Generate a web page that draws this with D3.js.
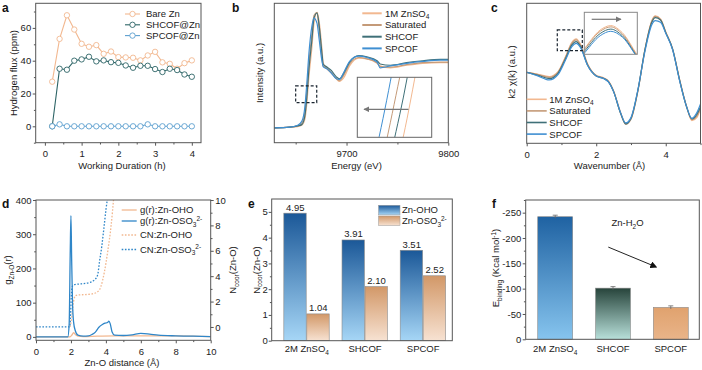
<!DOCTYPE html>
<html>
<head>
<meta charset="utf-8">
<script src="https://cdn.jsdelivr.net/npm/d3@7"></script>
<style>
  body { margin: 0; background: #fff; }
  svg { font-family: Arial, "Liberation Sans", sans-serif; }
  .axis text { font-size: 9.5px; fill: #222; }
  .axis line { stroke: #555; }
  .lbl { font-size: 9.5px; fill: #222; }
  .tag { font-size: 12px; font-weight: bold; fill: #111; }
</style>
</head>
<body>
<svg id="fig" width="702" height="370"></svg>
<script>
// ---------- a: hydrogen flux ----------
const durH = [0.2, 0.4, 0.6, 0.8, 1.0, 1.2, 1.4, 1.6, 1.8, 2.0, 2.2, 2.4, 2.6, 2.8, 3.0, 3.2, 3.4, 3.6, 3.8, 4.0];
const fluxBare = [27.2, 53.3, 67.7, 59, 50.3, 48.5, 49.5, 44.2, 45.6, 42.2, 42, 41.8, 40.2, 43.2, 45.4, 39, 38.1, 35.1, 38.5, 40.2];
const fluxSHCOF = [0, 35.1, 34.5, 40, 40.8, 42.4, 39.6, 40.2, 39.1, 38.7, 37.1, 35.7, 36.9, 36.9, 34.9, 33.1, 35.1, 34.3, 31.6, 30.2];
const fluxSPCOF = [0, 1.2, 0, 0, 0, 0, 0, 0, 0, 0, 0, 0, 0, 1.2, 0, 0, 0, 0, 0, 0];

// ---------- b: XANES ----------
const energy = [9629, 9644, 9652, 9656, 9659, 9661, 9663, 9666, 9668, 9671, 9673, 9676, 9677, 9681, 9685, 9690, 9693, 9697, 9703, 9712, 9720, 9730, 9733, 9743, 9759, 9775, 9792, 9800];
const xan1M = [0, 0.01, 0.02, 0.04, 0.13, 0.38, 0.78, 1.25, 1.62, 1.79, 1.66, 1.20, 1.01, 0.91, 0.85, 0.76, 0.72, 0.77, 0.96, 1.08, 1.07, 1.00, 0.96, 0.93, 0.97, 1.00, 1.01, 1.01];
const xanSat = [0, 0.01, 0.03, 0.07, 0.24, 0.58, 1.00, 1.46, 1.74, 1.79, 1.52, 1.06, 0.96, 0.92, 0.86, 0.76, 0.73, 0.81, 0.99, 1.09, 1.07, 1.01, 0.95, 0.94, 0.98, 1.01, 1.02, 1.02];
const xanSHCOF = [0, 0.01, 0.03, 0.05, 0.18, 0.48, 0.90, 1.37, 1.70, 1.78, 1.60, 1.13, 0.99, 0.94, 0.89, 0.79, 0.76, 0.84, 1.02, 1.12, 1.10, 1.04, 0.99, 0.97, 1.01, 1.04, 1.06, 1.06];
const xanSPCOF = [0, 0.01, 0.04, 0.10, 0.32, 0.70, 1.15, 1.58, 1.70, 1.62, 1.38, 1.02, 0.95, 0.91, 0.85, 0.76, 0.75, 0.85, 1.03, 1.11, 1.09, 1.02, 0.93, 0.96, 1.00, 1.03, 1.05, 1.05];

// ---------- c: EXAFS k-space ----------
const waveK = [0, 0.3, 0.65, 0.9, 1.1, 1.3, 1.42, 1.55, 1.75, 2.0, 2.2, 2.35, 2.5, 2.7, 2.85, 3.0, 3.2, 3.4, 3.6, 3.7, 3.85, 4.0, 4.2, 4.4, 4.6, 4.75, 4.9, 5.0];
const chi1M = [0, -0.05, -0.13, 0.02, 0.43, 0.90, 1.00, 0.84, 0.26, -0.09, -0.16, -0.26, -0.55, -1.20, -1.53, -1.40, -0.55, 0.68, 1.55, 1.69, 1.60, 1.22, 0.70, -0.22, -1.02, -1.45, -1.35, -1.10];
const chiSat = [0, -0.06, -0.15, 0.0, 0.41, 0.87, 0.97, 0.81, 0.24, -0.10, -0.17, -0.27, -0.57, -1.22, -1.56, -1.41, -0.56, 0.66, 1.54, 1.68, 1.58, 1.20, 0.68, -0.23, -1.03, -1.42, -1.30, -1.08];
const chiSHCOF = [0, -0.08, -0.19, -0.03, 0.37, 0.82, 0.92, 0.77, 0.22, -0.11, -0.18, -0.28, -0.58, -1.23, -1.55, -1.38, -0.53, 0.67, 1.50, 1.64, 1.57, 1.19, 0.69, -0.24, -1.04, -1.40, -1.25, -1.03];
const chiSPCOF = [0, -0.10, -0.23, -0.07, 0.33, 0.77, 0.87, 0.74, 0.21, -0.11, -0.18, -0.29, -0.58, -1.21, -1.52, -1.36, -0.52, 0.62, 1.43, 1.55, 1.50, 1.17, 0.67, -0.26, -1.03, -1.38, -1.20, -0.95];

// ---------- d: RDF and coordination number ----------
const rOSO = [0, 1.82, 1.90, 1.96, 2.00, 2.04, 2.09, 2.15, 2.25, 2.4, 2.7, 3.0, 3.2, 3.4, 3.6, 3.8, 3.95, 4.1, 4.17, 4.25, 4.35, 4.5, 5.0, 5.5, 6.0, 6.5, 7.0, 8.0, 9.0, 10];
const gOSO = [0, 0, 40, 250, 354, 230, 100, 44, 18, 5, 2, 3, 7, 14, 28, 36, 40, 42, 46, 38, 15, 5, 4, 6, 10, 8, 5, 3, 2, 1];
const rOHO = [0, 1.95, 2.05, 2.15, 2.25, 2.4, 2.7, 3.5, 4.5, 6, 8, 10];
const gOHO = [0, 0, 5, 12, 7, 2, 1, 2, 3, 3, 3, 1];
const rCnOHO = [1.95, 2.05, 2.15, 2.25, 2.4, 2.8, 3.2, 3.5, 3.72, 3.91, 4.1, 4.3, 4.45];
const cnOHO = [0, 0.8, 2.0, 2.45, 2.52, 2.55, 2.6, 2.75, 3.2, 4.3, 5.9, 8.0, 10.2];
const rCnOSO = [0, 1.92, 1.97, 2.02, 2.08, 2.2, 2.6, 3.05, 3.34, 3.53, 3.63, 3.77, 3.88, 4.01, 4.12];
const cnOSO = [0, 0, 0.6, 2.4, 3.2, 3.33, 3.4, 3.5, 3.7, 4.1, 5.1, 6.4, 7.7, 9.3, 10.4];

// ---------- e / f: bars ----------
const systems = ["2M ZnSO4", "SHCOF", "SPCOF"];
const ncoorOHO = [4.95, 3.91, 3.51];
const ncoorOSO = [1.04, 2.10, 2.52];
const eBinding = [-242, -101, -63];
const eBindingErr = [3, 3, 3];

const C = { orange: "#f2b890", brown: "#c49a78", teal: "#3f7078", blue: "#3f8fd2", aTeal: "#2d6466", aBlue: "#5c9fcf", frame: "#555" };

const svg = d3.select("#fig");
svg.append("rect").attr("width", 702).attr("height", 370).attr("fill", "#fff");
const defs = svg.append("defs");

defs.append("marker").attr("id", "grayHead").attr("viewBox", "0 -5 10 10")
  .attr("refX", 9).attr("refY", 0).attr("markerWidth", 5).attr("markerHeight", 5)
  .attr("orient", "auto").append("path").attr("d", "M0,-5L10,0L0,5Z").attr("fill", "#777");
defs.append("marker").attr("id", "blackHead").attr("viewBox", "0 -5 10 10")
  .attr("refX", 8).attr("refY", 0).attr("markerWidth", 7).attr("markerHeight", 7)
  .attr("orient", "auto").append("path").attr("d", "M0,-5L10,0L0,5Z").attr("fill", "#111");

function grad(id, top, bottom) {
  const g = defs.append("linearGradient").attr("id", id).attr("x1", 0).attr("y1", 0).attr("x2", 0).attr("y2", 1);
  g.append("stop").attr("offset", "0%").attr("stop-color", top);
  g.append("stop").attr("offset", "100%").attr("stop-color", bottom);
}
grad("gBlueE", "#1b5898", "#a6d6f6");
grad("gOrangeE", "#d29868", "#f7e2d2");
grad("gBlueF", "#1f62a2", "#86c4ee");
grad("gTealF", "#27443b", "#b8e0da");
grad("gTanF", "#e0a26e", "#e9b489");

function clip(id, x, y) {
  const [x0, x1] = x.range(), [y0, y1] = y.range();
  defs.append("clipPath").attr("id", id).append("rect")
    .attr("x", Math.min(x0, x1)).attr("y", Math.min(y0, y1))
    .attr("width", Math.abs(x1 - x0)).attr("height", Math.abs(y1 - y0));
}

function frame(x, y) {
  const [x0, x1] = x.range(), [y0, y1] = y.range();
  svg.append("rect").attr("x", Math.min(x0, x1)).attr("y", Math.min(y0, y1))
    .attr("width", Math.abs(x1 - x0)).attr("height", Math.abs(y1 - y0))
    .attr("fill", "none").attr("stroke", C.frame).attr("stroke-width", 1);
}

function addAxis(gen, scale, major, minor, tr, fmt, pad) {
  const g = svg.append("g").attr("class", "axis").attr("transform", tr);
  g.call(gen(scale).tickValues(major).tickSize(3).tickSizeOuter(0)
    .tickPadding(pad).tickFormat(fmt || (d => d)));
  g.select(".domain").remove();
  if (minor) {
    const m = g.append("g").call(gen(scale).tickValues(minor).tickSize(1.8).tickFormat(""));
    m.select(".domain").remove();
  }
  return g;
}

// text with sub/superscripts: parts = ["text", ["4","sub"], ["2-","sup"]]
function rich(sel, parts) {
  let shift = 0;
  parts.forEach(p => {
    const [txt, kind] = Array.isArray(p) ? p : [p, ""];
    const target = kind === "sub" ? 2.5 : kind === "sup" ? -3.5 : 0;
    const t = sel.append("tspan").attr("dy", target - shift).text(txt);
    if (kind) t.attr("font-size", "6.5px");
    shift = target;
  });
  return sel;
}

function label(x, y, parts, opts = {}) {
  const t = svg.append("text").attr("class", "lbl")
    .attr("text-anchor", opts.anchor || "start");
  if (opts.rotate) t.attr("transform", `translate(${x},${y}) rotate(-90)`);
  else t.attr("x", x).attr("y", y);
  return rich(t, parts);
}

function tag(x, y, s) {
  svg.append("text").attr("class", "tag").attr("x", x).attr("y", y).text(s);
}

const zip = (xs, ys) => xs.map((v, i) => [v, ys[i]]);

// =============== panel a ===============
{
  const x = d3.scaleLinear().domain([-0.25, 4.25]).range([35.7, 201]);
  const y = d3.scaleLinear().domain([-10, 75]).range([142.7, 3.3]);
  const line = d3.line().x(d => x(d[0])).y(d => y(d[1]));
  const series = [
    { name: "Bare Zn", vals: fluxBare, color: C.orange },
    { name: "SHCOF@Zn", vals: fluxSHCOF, color: C.aTeal },
    { name: "SPCOF@Zn", vals: fluxSPCOF, color: C.aBlue }
  ];
  series.forEach(s => {
    const pts = zip(durH, s.vals);
    svg.append("path").attr("d", line(pts)).attr("fill", "none")
      .attr("stroke", s.color).attr("stroke-width", 1.1);
    svg.append("g").selectAll("circle").data(pts).enter().append("circle")
      .attr("cx", d => x(d[0])).attr("cy", d => y(d[1])).attr("r", 2.7)
      .attr("fill", "#fff").attr("stroke", s.color).attr("stroke-width", 0.9);
  });
  frame(x, y);
  addAxis(d3.axisBottom, x, [0, 1, 2, 3, 4], [0.5, 1.5, 2.5, 3.5], "translate(0,142.7)", null, 5);
  addAxis(d3.axisLeft, y, [0, 20, 40, 60], [-10, 10, 30, 50, 70], "translate(35.7,0)", null, 1.5);
  label(122, 168.5, ["Working Duration (h)"], { anchor: "middle" });
  label(17, 73, ["Hydrogen flux (ppm)"], { anchor: "middle", rotate: true });
  series.forEach((s, i) => {
    const ly = 14 + i * 10.8;
    svg.append("line").attr("x1", 125).attr("x2", 140).attr("y1", ly).attr("y2", ly)
      .attr("stroke", s.color).attr("stroke-width", 1.1);
    svg.append("circle").attr("cx", 132.5).attr("cy", ly).attr("r", 2.7)
      .attr("fill", "#fff").attr("stroke", s.color).attr("stroke-width", 0.9);
    label(146, ly + 3.4, [s.name]);
  });
  tag(2, 12, "a");
}

// =============== panel b ===============
{
  const x = d3.scaleLinear().domain([9629, 9800]).range([274.3, 448.3]);
  const y = d3.scaleLinear().domain([-0.23, 1.93]).range([142.7, 3.3]);
  clip("clipB", x, y);
  const series = [
    { name: [["1M ZnSO"], ["4", "sub"]], vals: xan1M, color: C.orange },
    { name: ["Saturated"], vals: xanSat, color: C.brown },
    { name: ["SHCOF"], vals: xanSHCOF, color: C.teal },
    { name: ["SPCOF"], vals: xanSPCOF, color: C.blue }
  ];
  const plot = svg.append("g").attr("clip-path", "url(#clipB)");
  series.forEach(s => {
    const ln = d3.line().x(d => x(d[0])).y(d => y(d[1])).curve(d3.curveMonotoneX);
    plot.append("path").attr("d", ln(zip(energy, s.vals))).attr("fill", "none")
      .attr("stroke", s.color).attr("stroke-width", 1.2);
  });
  // dashed box marking the zoomed region
  const box = { e0: 9650, e1: 9670.7, i0: 0.39, i1: 0.65 };
  svg.append("rect").attr("x", x(box.e0)).attr("y", y(box.i1))
    .attr("width", x(box.e1) - x(box.e0)).attr("height", y(box.i0) - y(box.i1))
    .attr("fill", "none").attr("stroke", "#1a2530").attr("stroke-width", 1.2).attr("stroke-dasharray", "3,2");
  // inset
  const xi = d3.scaleLinear().domain([9658.15, 9663.15]).range([357.3, 431.7]);
  const yi = d3.scaleLinear().domain([0.42, 0.58]).range([137.3, 77.3]);
  clip("clipBi", xi, yi);
  svg.append("rect").attr("x", 357.3).attr("y", 77.3).attr("width", 74.4).attr("height", 60)
    .attr("fill", "#fff");
  const ip = svg.append("g").attr("clip-path", "url(#clipBi)");
  series.forEach(s => {
    const ln = d3.line().x(d => xi(d[0])).y(d => yi(d[1])).curve(d3.curveMonotoneX);
    ip.append("path").attr("d", ln(zip(energy, s.vals))).attr("fill", "none")
      .attr("stroke", s.color).attr("stroke-width", 1);
  });
  svg.append("rect").attr("x", 357.3).attr("y", 77.3).attr("width", 74.4).attr("height", 60)
    .attr("fill", "none").attr("stroke", "#666").attr("stroke-width", 1);
  svg.append("line").attr("x1", 408.5).attr("x2", 364).attr("y1", 109.3).attr("y2", 109.3)
    .attr("stroke", "#777").attr("stroke-width", 1.2).attr("marker-end", "url(#grayHead)");
  frame(x, y);
  addAxis(d3.axisBottom, x, [9700, 9800], [9650, 9750], "translate(0,142.7)", null, 5);
  label(356.5, 168.5, ["Energy (eV)"], { anchor: "middle" });
  label(263, 73, ["Intensity (a.u.)"], { anchor: "middle", rotate: true });
  series.forEach((s, i) => {
    const ly = 13.3 + i * 11.7;
    svg.append("line").attr("x1", 362.3).attr("x2", 381.7).attr("y1", ly).attr("y2", ly)
      .attr("stroke", s.color).attr("stroke-width", 2);
    label(385, ly + 3.4, s.name);
  });
  tag(232, 12, "b");
}

// =============== panel c ===============
{
  const x = d3.scaleLinear().domain([0, 5]).range([526.7, 700.5]);
  const y = d3.scaleLinear().domain([-2.13, 2.07]).range([143.3, 3.3]);
  clip("clipC", x, y);
  const series = [
    { name: [["1M ZnSO"], ["4", "sub"]], vals: chi1M, color: C.orange },
    { name: ["Saturated"], vals: chiSat, color: C.brown },
    { name: ["SHCOF"], vals: chiSHCOF, color: C.teal },
    { name: ["SPCOF"], vals: chiSPCOF, color: C.blue }
  ];
  const plot = svg.append("g").attr("clip-path", "url(#clipC)");
  series.forEach(s => {
    const ln = d3.line().x(d => x(d[0])).y(d => y(d[1])).curve(d3.curveMonotoneX);
    plot.append("path").attr("d", ln(zip(waveK, s.vals))).attr("fill", "none")
      .attr("stroke", s.color).attr("stroke-width", 1.2);
  });
  const box = { k0: 0.88, k1: 1.6, c0: 0.65, c1: 1.27 };
  svg.append("rect").attr("x", x(box.k0)).attr("y", y(box.c1))
    .attr("width", x(box.k1) - x(box.k0)).attr("height", y(box.c0) - y(box.c1))
    .attr("fill", "none").attr("stroke", "#1a2530").attr("stroke-width", 1.2).attr("stroke-dasharray", "3,2");
  const xi = d3.scaleLinear().domain([1.12, 1.72]).range([584.3, 637.3]);
  const yi = d3.scaleLinear().domain([0.35, 1.3]).range([54.3, 12.3]);
  clip("clipCi", xi, yi);
  svg.append("rect").attr("x", 584.3).attr("y", 12.3).attr("width", 53).attr("height", 42).attr("fill", "#fff");
  const ip = svg.append("g").attr("clip-path", "url(#clipCi)");
  series.forEach(s => {
    const ln = d3.line().x(d => xi(d[0])).y(d => yi(d[1])).curve(d3.curveMonotoneX);
    ip.append("path").attr("d", ln(zip(waveK, s.vals))).attr("fill", "none")
      .attr("stroke", s.color).attr("stroke-width", 1);
  });
  svg.append("rect").attr("x", 584.3).attr("y", 12.3).attr("width", 53).attr("height", 42)
    .attr("fill", "none").attr("stroke", "#888").attr("stroke-width", 1);
  svg.append("line").attr("x1", 591.7).attr("x2", 621).attr("y1", 19.3).attr("y2", 19.3)
    .attr("stroke", "#777").attr("stroke-width", 1.2).attr("marker-end", "url(#grayHead)");
  frame(x, y);
  addAxis(d3.axisBottom, x, [0, 2, 4], [1, 3, 5], "translate(0,143.3)", null, 5);
  label(609.5, 168.5, ["Wavenumber (Å)"], { anchor: "middle" });
  label(515, 72, ["k2 χ(k) (a.u.)"], { anchor: "middle", rotate: true });
  series.forEach((s, i) => {
    const ly = 99.3 + i * 11.6;
    svg.append("line").attr("x1", 526.7).attr("x2", 546.7).attr("y1", ly).attr("y2", ly)
      .attr("stroke", s.color).attr("stroke-width", 1.6);
    label(549.3, ly + 3.4, s.name);
  });
  tag(491, 12, "c");
}

// =============== panel d ===============
{
  const x = d3.scaleLinear().domain([0, 10]).range([36, 210.7]);
  const yL = d3.scaleLinear().domain([-10, 400]).range([340.3, 200]);
  const yR = d3.scaleLinear().domain([-1.05, 10]).range([340.3, 200]);
  clip("clipD", x, yL);
  const plot = svg.append("g").attr("clip-path", "url(#clipD)");
  const series = [
    { name: ["g(r):Zn-OHO"], r: rOHO, v: gOHO, y: yL, color: C.orange, dash: null },
    { name: ["g(r):Zn-OSO", ["3", "sub"], ["2-", "sup"]], r: rOSO, v: gOSO, y: yL, color: "#2f86c8", dash: null },
    { name: ["CN:Zn-OHO"], r: rCnOHO, v: cnOHO, y: yR, color: C.orange, dash: "1.6,1.6" },
    { name: ["CN:Zn-OSO", ["3", "sub"], ["2-", "sup"]], r: rCnOSO, v: cnOSO, y: yR, color: "#2f86c8", dash: "1.6,1.6" }
  ];
  [2, 3, 0, 1].forEach(i => {
    const s = series[i];
    const ln = d3.line().x(d => x(d[0])).y(d => s.y(d[1])).curve(d3.curveMonotoneX);
    plot.append("path").attr("d", ln(zip(s.r, s.v))).attr("fill", "none")
      .attr("stroke", s.color).attr("stroke-width", 1.3).attr("stroke-dasharray", s.dash);
  });
  frame(x, yL);
  addAxis(d3.axisBottom, x, [0, 2, 4, 6, 8, 10], [1, 3, 5, 7, 9], "translate(0,340.3)", null, 5);
  addAxis(d3.axisLeft, yL, [0, 100, 200, 300, 400], [50, 150, 250, 350], "translate(36,0)", null, 1.5);
  addAxis(d3.axisRight, yR, [0, 2, 4, 6, 8, 10], [1, 3, 5, 7, 9], "translate(210.7,0)", null, 1.5);
  label(122, 366, ["Zn-O distance (Å)"], { anchor: "middle" });
  label(11, 270, ["g", ["Zn-O", "sub"], ["(r)"]], { anchor: "middle", rotate: true });
  label(236, 270, ["N", ["coor", "sub"], ["(Zn-O)"]], { anchor: "middle", rotate: true });
  const rows = [210, 221, 235, 249.5];
  series.forEach((s, i) => {
    svg.append("line").attr("x1", 121.7).attr("x2", 136.7).attr("y1", rows[i]).attr("y2", rows[i])
      .attr("stroke", s.color).attr("stroke-width", 1.3).attr("stroke-dasharray", s.dash);
    label(140, rows[i] + 3.4, s.name);
  });
  tag(2, 208, "d");
}

// =============== panel e ===============
{
  const x = d3.scaleBand().domain(systems).range([278, 452]).paddingInner(0.21).paddingOuter(0.1);
  const sub = d3.scaleBand().domain(["oho", "oso"]).range([0, x.bandwidth()]);
  const y = d3.scaleLinear().domain([0, 5.5]).range([340.7, 199]);
  const rows = systems.map((s, i) => ({ s, oho: ncoorOHO[i], oso: ncoorOSO[i] }));
  const fills = { oho: "url(#gBlueE)", oso: "url(#gOrangeE)" };
  ["oho", "oso"].forEach(k => {
    svg.append("g").selectAll("rect").data(rows).enter().append("rect")
      .attr("x", d => x(d.s) + sub(k)).attr("width", sub.bandwidth() - 0.6)
      .attr("y", d => y(d[k])).attr("height", d => y(0) - y(d[k]))
      .attr("fill", fills[k]).attr("stroke", "#8a8a8a").attr("stroke-width", 0.6);
    svg.append("g").selectAll("text").data(rows).enter().append("text").attr("class", "lbl")
      .attr("x", d => x(d.s) + sub(k) + sub.bandwidth() / 2).attr("y", d => y(d[k]) - 2.5)
      .attr("text-anchor", "middle").attr("font-size", "10px").text(d => d[k].toFixed(2));
  });
  frame(d3.scaleLinear().range([271.7, 452.3]), y);
  addAxis(d3.axisLeft, y, [0, 1, 2, 3, 4, 5], [0.5, 1.5, 2.5, 3.5, 4.5], "translate(271.7,0)", null, 1);
  const names = [["2M ZnSO", ["4", "sub"]], ["SHCOF"], ["SPCOF"]];
  systems.forEach((s, i) => label(x(s) + x.bandwidth() / 2, 352, names[i], { anchor: "middle" }));
  label(259.5, 270, ["N", ["coor", "sub"], ["(Zn-O)"]], { anchor: "middle", rotate: true });
  const leg = [{ f: fills.oho, t: ["Zn-OHO"] }, { f: fills.oso, t: ["Zn-OSO", ["3", "sub"], ["2-", "sup"]] }];
  leg.forEach((l, i) => {
    const ly = 205.3 + i * 10.7;
    svg.append("rect").attr("x", 378.5).attr("y", ly).attr("width", 21.5).attr("height", 9.6)
      .attr("fill", l.f).attr("stroke", "#999").attr("stroke-width", 0.5);
    label(402, ly + 8, l.t);
  });
  tag(248, 208, "e");
}

// =============== panel f ===============
{
  const x = d3.scaleBand().domain(systems).range([520.4, 705.6]).paddingInner(0.395).paddingOuter(0.3);
  const y = d3.scaleLinear().domain([0, -275]).range([339.3, 200]);
  const rows = systems.map((s, i) => ({ s, v: eBinding[i], e: eBindingErr[i] }));
  const fills = ["url(#gBlueF)", "url(#gTealF)", "url(#gTanF)"];
  svg.append("g").selectAll("rect").data(rows).enter().append("rect")
    .attr("x", d => x(d.s)).attr("width", x.bandwidth())
    .attr("y", d => y(d.v)).attr("height", d => y(0) - y(d.v))
    .attr("fill", (d, i) => fills[i]).attr("stroke", "#8a8a8a").attr("stroke-width", 0.6);
  const eb = svg.append("g").selectAll("g").data(rows).enter().append("g")
    .attr("stroke", "#666").attr("stroke-width", 0.8);
  eb.append("line").attr("x1", d => x(d.s) + x.bandwidth() / 2).attr("x2", d => x(d.s) + x.bandwidth() / 2)
    .attr("y1", d => y(d.v - d.e)).attr("y2", d => y(d.v + d.e));
  eb.append("line").attr("x1", d => x(d.s) + x.bandwidth() / 2 - 2.5).attr("x2", d => x(d.s) + x.bandwidth() / 2 + 2.5)
    .attr("y1", d => y(d.v - d.e)).attr("y2", d => y(d.v - d.e));
  frame(d3.scaleLinear().range([525.7, 699.3]), y);
  addAxis(d3.axisLeft, y, [0, -50, -100, -150, -200, -250], [-25, -75, -125, -175, -225, -275], "translate(525.7,0)", null, 1.5);
  const names = [["2M ZnSO", ["4", "sub"]], ["SHCOF"], ["SPCOF"]];
  systems.forEach((s, i) => label(x(s) + x.bandwidth() / 2, 352, names[i], { anchor: "middle" }));
  label(499, 268, ["E", ["binding", "sub"], [" (Kcal mol"], ["-1", "sup"], [")"]], { anchor: "middle", rotate: true });
  label(627.5, y(-230) + 3.5, ["Zn-H", ["2", "sub"], ["O"]], { anchor: "middle" });
  svg.append("line").attr("x1", 608.3).attr("y1", y(-182)).attr("x2", 656).attr("y2", y(-143))
    .attr("stroke", "#222").attr("stroke-width", 1).attr("marker-end", "url(#blackHead)");
  tag(492, 208, "f");
}
</script>
</body>
</html>
